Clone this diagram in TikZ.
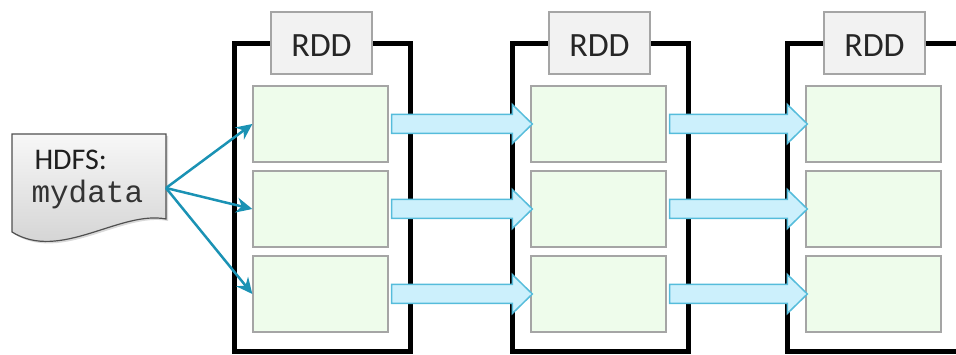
\documentclass[tikz,border=0pt]{standalone}
\usepackage{fontspec}
\setmainfont{Carlito}
\newfontfamily\monofont{Liberation Mono}
\usetikzlibrary{arrows.meta,calc,shadows}
\definecolor{partgreen}{HTML}{EEFCEB}
\definecolor{partgray}{HTML}{A5A5A5}
\definecolor{labelgray}{HTML}{F2F2F2}
\definecolor{flowfill}{HTML}{CCF0FC}
\definecolor{flowedge}{HTML}{55BCDB}
\definecolor{loadblue}{HTML}{1A92B4}
\definecolor{docedge}{HTML}{505050}

\begin{document}
\begin{tikzpicture}[x=1pt,y=-1pt]
    \tikzstyle{stage}=[draw=black, line width=5pt, minimum width=176pt, minimum height=308pt, inner sep=0pt]
    \tikzstyle{part}=[draw=partgray, fill=partgreen, line width=1.3pt, minimum width=135pt, minimum height=76pt, inner sep=0pt]
    \tikzstyle{label box}=[draw=partgray, fill=labelgray, line width=1.3pt, minimum width=101pt, minimum height=62pt, inner sep=0pt, text height=27pt, text depth=0pt, text=black!85, font=\fontsize{34}{38}\selectfont]
    \tikzstyle{flow}=[draw=flowedge, fill=flowfill, line width=1.5pt, line join=miter]
    \tikzstyle{load}=[draw=loadblue, line width=2.5pt, -{Stealth[length=16pt,width=15pt]}]
    \tikzstyle{document}=[draw=docedge, line width=1.2pt, top color=gray!6, bottom color=gray!38, drop shadow={shadow xshift=2pt, shadow yshift=-2pt, opacity=0.3}]

    \useasboundingbox (0,0) rectangle (956,355);
    \clip (0,0) rectangle (956,355);

    % Draw the RDD stages with their partitions
    \foreach \i/\o in {1/0,2/278,3/553} {
        \node[stage] (S-\i) at (\o+322,198) {};
        \foreach \r/\y in {1/124,2/209,3/294}
            \node[part] (P-\i-\r) at (\o+320.5,\y) {};
        \node[label box] (R-\i) at (\o+321.5,43) {RDD};
    }

    % Connect every partition with the partition of the next stage
    \foreach \i/\j in {1/2,2/3}
        \foreach \r in {1,2,3}
            \path[flow] let \p1=(P-\i-\r.east), \p2=(P-\j-\r.west) in
                (\x1+3pt,\y1+9.5pt) -- (\x2-18pt,\y1+9.5pt) -- (\x2-18pt,\y1+19.5pt)
                -- (\x2+2pt,\y1) -- (\x2-18pt,\y1-19.5pt) -- (\x2-18pt,\y1-9.5pt)
                -- (\x1+3pt,\y1-9.5pt) -- cycle;

    % Draw the input file
    \path[document] (12,134) -- (166,134) -- (166,219)
        .. controls (120,210) and (60,262) .. (12,232) -- cycle;
    \node[anchor=base west, text=black!88, font=\fontsize{30}{34}\selectfont] (hdfs) at (31,170) {HDFS:};
    \node[anchor=base west, text=black!80, font=\monofont\fontsize{31}{34}\selectfont] (mydata) at (28,203) {mydata};
    \coordinate (src) at (166,188);

    % Load the file into the partitions of the first stage
    \foreach \r in {1,2,3}
        \draw[load] (src) -- (P-1-\r.west);
\end{tikzpicture}
\end{document}
